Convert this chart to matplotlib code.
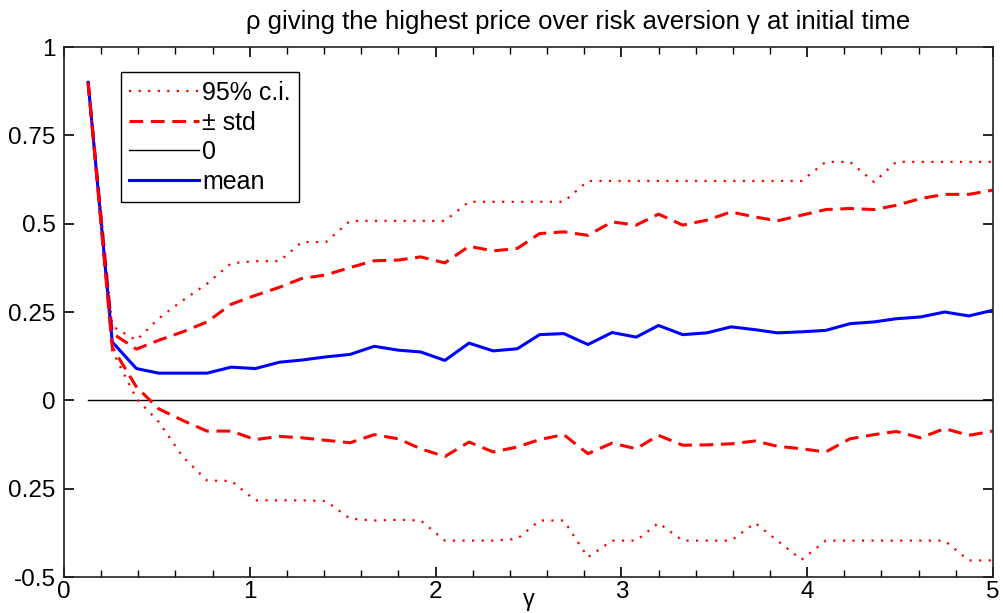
import matplotlib
matplotlib.use("Agg")
import matplotlib.pyplot as plt
from matplotlib.ticker import MultipleLocator

plt.rcParams['font.family'] = ['Liberation Sans', 'DejaVu Sans']
plt.rcParams['axes.unicode_minus'] = False

# risk aversion grid
gamma = [0.13, 0.26, 0.39, 0.51, 0.64, 0.77, 0.90, 1.03, 1.16, 1.28,
         1.41, 1.54, 1.67, 1.80, 1.92, 2.05, 2.18, 2.31, 2.44, 2.56,
         2.69, 2.82, 2.95, 3.08, 3.20, 3.33, 3.46, 3.59, 3.72, 3.84,
         3.97, 4.10, 4.23, 4.36, 4.48, 4.61, 4.74, 4.87, 5.00]

mean = [0.90, 0.165, 0.09, 0.077, 0.077, 0.077, 0.094, 0.09, 0.108, 0.114,
        0.123, 0.13, 0.153, 0.142, 0.137, 0.113, 0.162, 0.14, 0.146, 0.186,
        0.189, 0.158, 0.192, 0.179, 0.212, 0.186, 0.191, 0.208, 0.200, 0.191,
        0.194, 0.198, 0.217, 0.222, 0.231, 0.236, 0.250, 0.239, 0.255]

std_up = [0.90, 0.19, 0.145, 0.17, 0.194, 0.222, 0.272, 0.297, 0.32, 0.345,
          0.355, 0.376, 0.395, 0.397, 0.406, 0.389, 0.436, 0.423, 0.43, 0.472,
          0.477, 0.467, 0.505, 0.496, 0.527, 0.496, 0.51, 0.533, 0.519, 0.508,
          0.524, 0.54, 0.543, 0.54, 0.552, 0.571, 0.583, 0.583, 0.595]

std_lo = [0.90, 0.15, 0.038, -0.024, -0.057, -0.087, -0.087, -0.111, -0.102, -0.106,
          -0.113, -0.12, -0.097, -0.109, -0.137, -0.159, -0.118, -0.146, -0.132, -0.111,
          -0.097, -0.151, -0.121, -0.137, -0.099, -0.127, -0.126, -0.123, -0.115, -0.13,
          -0.137, -0.146, -0.109, -0.097, -0.088, -0.106, -0.08, -0.099, -0.087]

ci_up = [0.90, 0.21, 0.17, 0.232, 0.283, 0.33, 0.388, 0.394, 0.394, 0.448,
         0.448, 0.508, 0.508, 0.508, 0.508, 0.508, 0.562, 0.562, 0.562, 0.562,
         0.562, 0.621, 0.621, 0.621, 0.621, 0.621, 0.621, 0.621, 0.621, 0.621,
         0.621, 0.675, 0.675, 0.618, 0.675, 0.675, 0.675, 0.675, 0.675]

ci_lo = [0.90, 0.14, 0.005, -0.061, -0.16, -0.227, -0.228, -0.283, -0.283, -0.283,
         -0.285, -0.335, -0.34, -0.338, -0.34, -0.397, -0.397, -0.397, -0.392, -0.34,
         -0.34, -0.444, -0.397, -0.397, -0.347, -0.397, -0.397, -0.397, -0.347, -0.397,
         -0.451, -0.397, -0.397, -0.397, -0.397, -0.397, -0.397, -0.453, -0.453]

zero = [0.0] * len(gamma)

yticks = [-0.5, -0.25, 0, 0.25, 0.5, 0.75, 1]
ylabels = ['-0.5', '0.25', '0', '0.25', '0.5', '0.75', '1']

fig = plt.figure(figsize=(10.04, 6.13), dpi=100)
ax = fig.add_axes([0.0637, 0.0587, 0.9253, 0.8646])

ax.plot(gamma, ci_up, color='red', lw=1.6, linestyle=(0, (1, 3.3)), label='95% c.i.')
ax.plot(gamma, std_up, color='red', lw=2.2, linestyle=(0, (4.5, 2.5)), label='± std')
ax.plot(gamma, zero, color='black', lw=1.0, label='0')
ax.plot(gamma, mean, color='blue', lw=2.2, label='mean')
ax.plot(gamma, ci_lo, color='red', lw=1.6, linestyle=(0, (1, 3.3)))
ax.plot(gamma, std_lo, color='red', lw=2.2, linestyle=(0, (4.5, 2.5)))

ax.set_xlim(0, 5)
ax.set_ylim(-0.5, 1)
ax.xaxis.set_major_locator(MultipleLocator(1))
ax.xaxis.set_minor_locator(MultipleLocator(0.2))
ax.set_yticks(yticks)
ax.set_yticklabels(ylabels)
ax.tick_params(which='both', direction='in', top=True, right=True, labelsize=17.5, color='black')
ax.tick_params(which='major', length=7, width=1.2)
ax.tick_params(which='minor', length=5, width=1.0)
ax.tick_params(axis='y', pad=6)
ax.tick_params(axis='x', pad=3)
for s in ax.spines.values():
    s.set_linewidth(1.2)
    s.set_color('#222222')

ax.set_xlabel('γ', fontsize=17, va='center')
ax.xaxis.set_label_coords(0.5, -0.043)
ax.set_title('ρ giving the highest price over risk aversion γ at initial time',
             fontsize=18.5, pad=13, x=0.554)

leg = ax.legend(loc='upper left', bbox_to_anchor=(0.061, 0.952), fontsize=18, handlelength=2.8,
                handletextpad=0.1, borderpad=0.35, labelspacing=0.22, borderaxespad=0,
                fancybox=False, framealpha=1)
leg.get_frame().set_edgecolor('black')
leg.get_frame().set_linewidth(1.0)

fig.savefig('out.png', dpi=100)
